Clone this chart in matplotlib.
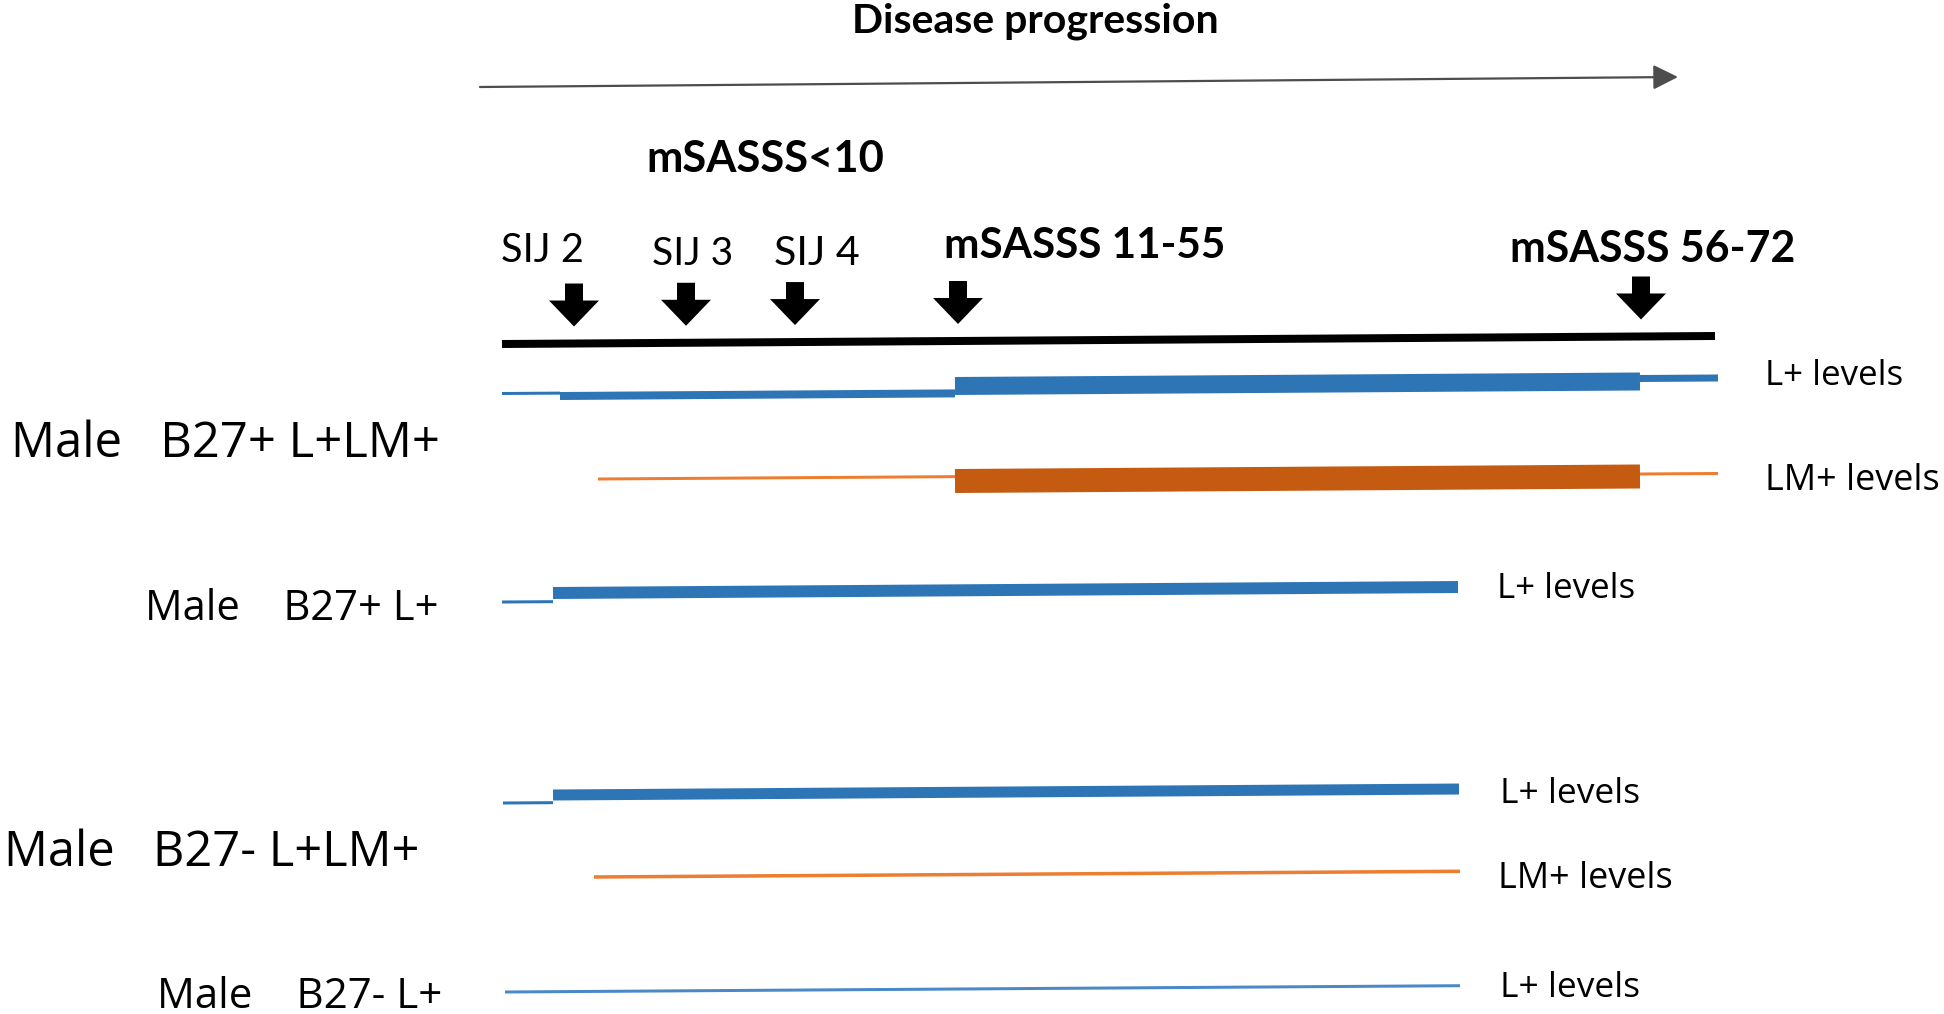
import matplotlib
matplotlib.use("Agg")
import matplotlib.pyplot as plt
from matplotlib.patches import FancyArrow


# ─── DATA ─────────────────────────────────────────────────────────────────────
# posisi pada sumbu "disease progression" (satuan piksel gambar asli)
stage_labels = ["SIJ 2", "SIJ 3", "SIJ 4", "mSASSS 11-55", "mSASSS 56-72"]
stage_pos    = [574, 686, 795, 958, 1641]
stage_bold   = [False, False, False, True, True]

axis_start, axis_end, axis_y = 502, 1715, 344
trend_start, trend_end, trend_y0, trend_y1 = 480, 1678, 87, 77

row_labels = ["Male   B27+ L+LM+", "Male    B27+ L+", "Male   B27- L+LM+", "Male    B27- L+"]

# tiap track: titik patah, posisi tengah di awal tiap segmen, ketebalan (px)
r1_l_breaks = [502, 560, 955, 1640, 1718]
r1_l_y      = [393.5, 396, 386, 378.5]
r1_l_w      = [3, 8, 18, 7]

r1_lm_breaks = [598, 955, 1640, 1718]
r1_lm_y      = [479, 481, 474]
r1_lm_w      = [3, 24, 3]

r2_l_breaks = [502, 553, 1458]
r2_l_y      = [602, 593]
r2_l_w      = [3, 12]

r3_l_breaks = [503, 553, 1459]
r3_l_y      = [803, 795]
r3_l_w      = [3, 11]

r3_lm_breaks = [594, 1460]
r3_lm_y      = [877]
r3_lm_w      = [3.5]

r4_l_breaks = [505, 1460]
r4_l_y      = [992]
r4_l_w      = [3]

TILT = -0.0066
BLUE = "#2E75B6"
ORANGE = "#ED7D31"
ORANGE_DARK = "#C55A11"

NARROW = ["Liberation Sans Narrow", "Lato", "DejaVu Sans"]
SANS = ["Open Sans", "DejaVu Sans"]


# ─── HELPER ───────────────────────────────────────────────────────────────────
fig = plt.figure(figsize=(19.44, 10.14), dpi=100)
ax = fig.add_axes([0, 0, 1, 1])
ax.set_xlim(0, 1944)
ax.set_ylim(1014, 0)
ax.axis("off")
renderer = fig.canvas.get_renderer()


def fit_text(x, y, s, width, ha="left", family=SANS, bold=False):
    t = ax.text(x, y, s, ha=ha, va="baseline", fontsize=20, family=family,
                fontweight="bold" if bold else "normal", color="black")
    w = t.get_window_extent(renderer).width
    t.set_fontsize(20 * width / w)
    return t


def track(breaks, ys, widths, colors):
    for i in range(len(widths)):
        x0, x1 = breaks[i], breaks[i + 1]
        y0 = ys[i]
        y1 = y0 + TILT * (x1 - x0)
        ax.plot([x0, x1], [y0, y1], color=colors[i], lw=widths[i] * 0.72,
                solid_capstyle="butt")


# ─── ARROW PROGRESSION ────────────────────────────────────────────────────────
ax.annotate("", xy=(trend_end, trend_y1), xytext=(trend_start, trend_y0),
            arrowprops=dict(arrowstyle="-|>,head_length=0.4,head_width=0.2",
                            color="#4d4d4d", lw=1.6, mutation_scale=38,
                            shrinkA=0, shrinkB=0))
fit_text(1035, 33, "Disease progression", 367, ha="center", family=NARROW, bold=True)
fit_text(646, 172, "mSASSS<10", 238, family=NARROW, bold=True)

# ─── SUMBU STAGE + PANAH BAWAH ────────────────────────────────────────────────
ax.plot([axis_start, axis_end],
        [axis_y, axis_y + TILT * (axis_end - axis_start)],
        color="black", lw=8 * 0.72, solid_capstyle="butt")

label_left  = [501, 652, 774, 944, 1510]
label_base  = [262, 265, 265, 258, 262]
label_width = [83, 81, 86, 282, 285]
for name, pos, bold, lx, ly, lw_ in zip(stage_labels, stage_pos, stage_bold,
                                        label_left, label_base, label_width):
    tip = axis_y + TILT * (pos - axis_start) - 17
    ax.add_patch(FancyArrow(pos, tip - 43, 0, 43, width=18, head_width=50,
                            head_length=26, length_includes_head=True,
                            color="black", lw=0))
    fit_text(lx, ly, name, lw_, family=NARROW if not bold else NARROW, bold=bold)

# ─── TRACK PER KELOMPOK ───────────────────────────────────────────────────────
track(r1_l_breaks, r1_l_y, r1_l_w, [BLUE] * 4)
track(r1_lm_breaks, r1_lm_y, r1_lm_w, [ORANGE, ORANGE_DARK, ORANGE])
track(r2_l_breaks, r2_l_y, r2_l_w, [BLUE] * 2)
track(r3_l_breaks, r3_l_y, r3_l_w, [BLUE] * 2)
track(r3_lm_breaks, r3_lm_y, r3_lm_w, [ORANGE])
track(r4_l_breaks, r4_l_y, r4_l_w, ["#4A88C7"])

fit_text(1765, 385, "L+ levels", 138)
fit_text(1765, 490, "LM+ levels", 175)
fit_text(1497, 598, "L+ levels", 138)
fit_text(1500, 803, "L+ levels", 140)
fit_text(1498, 888, "LM+ levels", 175)
fit_text(1500, 997, "L+ levels", 140)

fit_text(11, 457, row_labels[0], 430)
fit_text(145, 620, row_labels[1], 294)
fit_text(4, 866, row_labels[2], 417)
fit_text(157, 1008, row_labels[3], 286)

fig.savefig("out.png", dpi=100, facecolor="white")
